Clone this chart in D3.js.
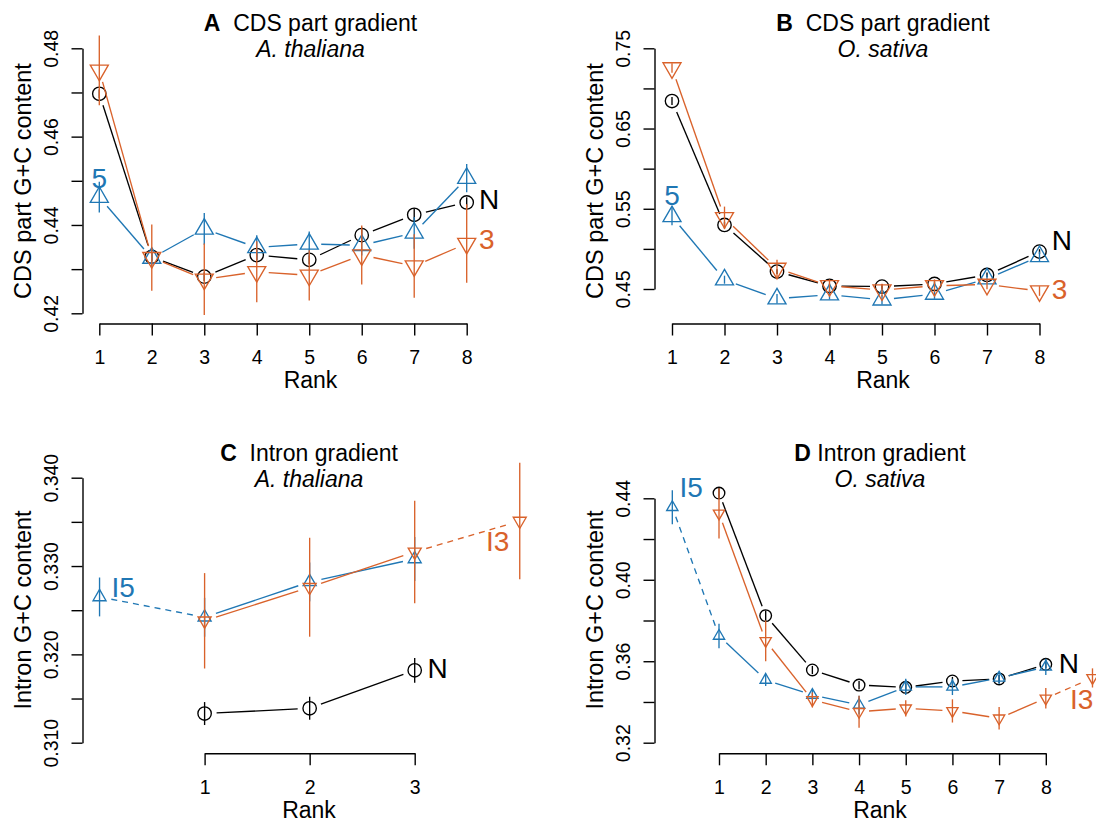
<!DOCTYPE html>
<html>
<head>
<meta charset="utf-8">
<script src="https://cdn.jsdelivr.net/npm/d3@7"></script>
<style>
  body { margin: 0; background: #fff; }
  svg { display: block; font-family: "Liberation Sans", Arial, Helvetica, sans-serif; }
</style>
</head>
<body>
<svg id="fig" width="1096" height="823"></svg>
<script>
// ---- A: CDS part gradient, A. thaliana ----
const aRanks  = [1, 2, 3, 4, 5, 6, 7, 8];
const aN      = [0.4697, 0.4328, 0.4283, 0.4332, 0.4321, 0.4377, 0.4423, 0.4451];
const aNErr   = [0.0010, 0.0010, 0.0010, 0.0012, 0.0010, 0.0017, 0.0015, 0.0012];
const a5      = [0.4463, 0.4325, 0.4391, 0.4349, 0.4357, 0.4354, 0.4382, 0.4506];
const a5Err   = [0.0035, 0.0022, 0.0036, 0.0028, 0.0028, 0.0023, 0.0036, 0.0032];
const a3      = [0.4750, 0.4326, 0.4277, 0.4294, 0.4286, 0.4332, 0.4307, 0.4358];
const a3Err   = [0.0079, 0.0075, 0.0081, 0.0069, 0.0057, 0.0067, 0.0072, 0.0089];
const aTicks  = [0.42, 0.43, 0.44, 0.45, 0.46, 0.47, 0.48];
const aLabels = [0.42, 0.44, 0.46, 0.48];

// ---- B: CDS part gradient, O. sativa ----
const bRanks  = [1, 2, 3, 4, 5, 6, 7, 8];
const bN      = [0.6843, 0.5298, 0.4717, 0.4538, 0.4530, 0.4563, 0.4675, 0.4966];
const bNErr   = [0.005, 0.004, 0.003, 0.003, 0.003, 0.003, 0.003, 0.003];
const b5      = [0.5404, 0.4616, 0.4379, 0.4429, 0.4366, 0.4437, 0.4628, 0.4906];
const b5Err   = [0.011, 0.005, 0.006, 0.006, 0.006, 0.006, 0.005, 0.006];
const b3      = [0.7255, 0.5387, 0.4756, 0.4540, 0.4486, 0.4540, 0.4557, 0.4475];
const b3Err   = [0.006, 0.014, 0.011, 0.008, 0.008, 0.008, 0.006, 0.006];
const bTicks  = [0.45, 0.50, 0.55, 0.60, 0.65, 0.70, 0.75];
const bLabels = [0.45, 0.55, 0.65, 0.75];

// ---- C: Intron gradient, A. thaliana ----
const cRanksN = [1, 2, 3];
const cN      = [0.3133, 0.3139, 0.3182];
const cNErr   = [0.0013, 0.0013, 0.0014];
const cRanks5 = [0, 1, 2, 3];
const c5      = [0.3265, 0.3242, 0.3282, 0.3308];
const c5Err   = [0.0022, 0.0022, 0.0022, 0.0025];
const cRanks3 = [1, 2, 3, 4];
const c3      = [0.3238, 0.3276, 0.3316, 0.3351];
const c3Err   = [0.0054, 0.0056, 0.0058, 0.0066];
const cTicks  = [0.310, 0.315, 0.320, 0.325, 0.330, 0.335, 0.340];
const cLabels = [0.310, 0.320, 0.330, 0.340];

// ---- D: Intron gradient, O. sativa ----
const dRanksN = [1, 2, 3, 4, 5, 6, 7, 8];
const dN      = [0.4426, 0.3824, 0.3557, 0.3483, 0.3472, 0.3503, 0.3513, 0.3585];
const dNErr   = [0.003, 0.0025, 0.002, 0.002, 0.002, 0.002, 0.002, 0.002];
const dRanks5 = [0, 1, 2, 3, 4, 5, 6, 7, 8];
const d5      = [0.4356, 0.3724, 0.3508, 0.3434, 0.3385, 0.3474, 0.3474, 0.3518, 0.3572];
const d5Err   = [0.0084, 0.006, 0.003, 0.0025, 0.0045, 0.004, 0.004, 0.003, 0.004];
const dRanks3 = [1, 2, 3, 4, 5, 6, 7, 8, 9];
const d3v     = [0.4326, 0.3700, 0.3410, 0.3352, 0.3369, 0.3356, 0.3320, 0.3418, 0.3518];
const d3Err   = [0.0123, 0.010, 0.0037, 0.0078, 0.004, 0.0057, 0.0055, 0.005, 0.0047];
const dTicks  = [0.32, 0.34, 0.36, 0.38, 0.40, 0.42, 0.44];
const dLabels = [0.32, 0.36, 0.40, 0.44];

const blue = "#1f77b4", orange = "#d9622b", black = "#000";
const svg = d3.select("#fig");

function drawPanel(p) {
  const g = svg.append("g");
  const x = d3.scaleLinear().domain(p.xDom).range(p.xRange);
  const y = d3.scaleLinear().domain(p.yDom).range(p.yRange);

  // y axis, R style: rotated labels, only some ticks labelled
  const ya = g.append("g")
    .attr("transform", `translate(${p.yAxisX},0)`)
    .call(d3.axisLeft(y).tickValues(p.yTicks).tickSize(11).tickSizeOuter(0)
      .tickFormat(d => p.yLabels.includes(d) ? d3.format(p.fmt)(d) : ""));
  ya.attr("font-family", null).attr("font-size", null);
  ya.select(".domain").attr("stroke-width", 1.4);
  ya.selectAll(".tick line").attr("stroke-width", 1.4);
  ya.selectAll(".tick text")
    .attr("x", 0).attr("dy", null).attr("y", 0)
    .attr("text-anchor", "middle")
    .attr("transform", "translate(-25,0) rotate(-90)")
    .style("font-size", "19.5px").attr("fill", black);

  const xa = g.append("g")
    .attr("transform", `translate(0,${p.xAxisY})`)
    .call(d3.axisBottom(x).tickValues(p.xTicks).tickSize(12).tickSizeOuter(0)
      .tickFormat(d3.format("d")));
  xa.attr("font-family", null).attr("font-size", null);
  xa.select(".domain").attr("stroke-width", 1.4);
  xa.selectAll(".tick line").attr("stroke-width", 1.4);
  xa.selectAll(".tick text").attr("y", 40.5).attr("dy", null)
    .style("font-size", "19.5px").attr("fill", black);

  // titles
  const t = g.append("text").attr("x", p.cx).attr("y", p.titleY)
    .attr("text-anchor", "middle").style("font-size", "23px")
    .style("white-space", "pre");
  t.append("tspan").attr("font-weight", "bold").text(p.letter);
  t.append("tspan").text(p.title);
  g.append("text").attr("x", p.cx).attr("y", p.titleY + 26)
    .attr("text-anchor", "middle").style("font-size", "23px")
    .style("font-style", "italic").text(p.species);

  g.append("text").attr("x", p.cx).attr("y", p.xAxisY + 64.5)
    .attr("text-anchor", "middle").style("font-size", "23px").text("Rank");
  g.append("text")
    .attr("transform", `translate(${p.yTitleX},${p.yTitleY}) rotate(-90)`)
    .attr("text-anchor", "middle").style("font-size", "23.5px").text(p.yTitle);

  // series: type "b" lines with gaps, error bars, open symbols
  p.series.forEach(s => {
    const pts = s.ranks.map((r, i) => ({
      r, px: x(r), py: y(s.vals[i]),
      lo: y(s.vals[i] - s.errs[i]), hi: y(s.vals[i] + s.errs[i])
    }));
    const sg = g.append("g").attr("stroke", s.color).attr("fill", "none")
      .attr("stroke-width", 1.35);

    sg.selectAll("line.err").data(pts).join("line").attr("class", "err")
      .attr("x1", d => d.px).attr("x2", d => d.px)
      .attr("y1", d => d.lo).attr("y2", d => d.hi);

    const segs = d3.pairs(pts).map(([a, b]) => {
      const dx = b.px - a.px, dy = b.py - a.py, L = Math.hypot(dx, dy);
      const ux = dx / L, uy = dy / L;
      return { a, b, L, x1: a.px + ux * p.gap, y1: a.py + uy * p.gap,
               x2: b.px - ux * p.gap, y2: b.py - uy * p.gap };
    }).filter(d => d.L > 2 * p.gap);
    sg.selectAll("line.seg").data(segs).join("line").attr("class", "seg")
      .attr("x1", d => d.x1).attr("y1", d => d.y1)
      .attr("x2", d => d.x2).attr("y2", d => d.y2)
      .attr("stroke-dasharray", d => (s.dashed || []).includes(d.a.r) ? "6,5" : null);

    const sym = s.shape === "circle"
      ? d3.symbol().type(d3.symbolCircle).size(Math.PI * p.circleR * p.circleR)
      : d3.symbol().type(d3.symbolTriangle).size(3 * Math.sqrt(3) / 4 * p.triR * p.triR);
    sg.selectAll("path.pt").data(pts).join("path").attr("class", "pt")
      .attr("d", sym)
      .attr("transform", d => `translate(${d.px},${d.py})` + (s.shape === "down" ? " rotate(180)" : ""));
  });

  p.notes.forEach(n => {
    g.append("text").attr("x", n.x).attr("y", n.y)
      .attr("text-anchor", n.anchor || "start")
      .attr("fill", n.color).style("font-size", "28px").text(n.text);
  });
}

drawPanel({
  xDom: [1, 8], xRange: [99.3, 466.7], xTicks: aRanks,
  yDom: [0.42, 0.48], yRange: [313.3, 48.3], yTicks: aTicks, yLabels: aLabels, fmt: ".2f",
  yAxisX: 82.5, xAxisY: 323.5, circleR: 6.7, triR: 10.4, gap: 12,
  cx: 310.5, titleY: 31, letter: "A", title: "  CDS part gradient", species: "A. thaliana",
  yTitle: "CDS part G+C content", yTitleX: 31, yTitleY: 181,
  series: [
    { ranks: aRanks, vals: aN, errs: aNErr, color: black, shape: "circle" },
    { ranks: aRanks, vals: a5, errs: a5Err, color: blue, shape: "up" },
    { ranks: aRanks, vals: a3, errs: a3Err, color: orange, shape: "down" }
  ],
  notes: [
    { text: "5", x: 99.3, y: 188, color: blue, anchor: "middle" },
    { text: "N", x: 479, y: 209.3, color: black },
    { text: "3", x: 479, y: 249.3, color: orange }
  ]
});

drawPanel({
  xDom: [1, 8], xRange: [672, 1039.5], xTicks: bRanks,
  yDom: [0.45, 0.75], yRange: [289, 48.3], yTicks: bTicks, yLabels: bLabels, fmt: ".2f",
  yAxisX: 654.5, xAxisY: 323.5, circleR: 6.7, triR: 10.4, gap: 12,
  cx: 883, titleY: 31, letter: "B", title: "  CDS part gradient", species: "O. sativa",
  yTitle: "CDS part G+C content", yTitleX: 603, yTitleY: 181,
  series: [
    { ranks: bRanks, vals: bN, errs: bNErr, color: black, shape: "circle" },
    { ranks: bRanks, vals: b5, errs: b5Err, color: blue, shape: "up" },
    { ranks: bRanks, vals: b3, errs: b3Err, color: orange, shape: "down" }
  ],
  notes: [
    { text: "5", x: 672, y: 205, color: blue, anchor: "middle" },
    { text: "N", x: 1051.7, y: 250, color: black },
    { text: "3", x: 1051.7, y: 299.3, color: orange }
  ]
});

drawPanel({
  xDom: [1, 3], xRange: [204.6, 414.7], xTicks: cRanksN,
  yDom: [0.31, 0.34], yRange: [742.7, 477.7], yTicks: cTicks, yLabels: cLabels, fmt: ".3f",
  yAxisX: 82.5, xAxisY: 753.3, circleR: 6.7, triR: 7.5, gap: 12,
  cx: 309, titleY: 460.5, letter: "C", title: "  Intron gradient", species: "A. thaliana",
  yTitle: "Intron G+C content", yTitleX: 31, yTitleY: 610,
  series: [
    { ranks: cRanksN, vals: cN, errs: cNErr, color: black, shape: "circle" },
    { ranks: cRanks5, vals: c5, errs: c5Err, color: blue, shape: "up", dashed: [0] },
    { ranks: cRanks3, vals: c3, errs: c3Err, color: orange, shape: "down", dashed: [3] }
  ],
  notes: [
    { text: "I5", x: 111.6, y: 596.7, color: blue },
    { text: "I3", x: 486, y: 550.7, color: orange },
    { text: "N", x: 427.4, y: 678.3, color: black }
  ]
});

drawPanel({
  xDom: [1, 8], xRange: [719, 1045.8], xTicks: dRanksN,
  yDom: [0.32, 0.44], yRange: [742.7, 498.3], yTicks: dTicks, yLabels: dLabels, fmt: ".2f",
  yAxisX: 654.5, xAxisY: 753.3, circleR: 5.8, triR: 6.5, gap: 10,
  cx: 880, titleY: 460.5, letter: "D", title: " Intron gradient", species: "O. sativa",
  yTitle: "Intron G+C content", yTitleX: 603, yTitleY: 610,
  series: [
    { ranks: dRanksN, vals: dN, errs: dNErr, color: black, shape: "circle" },
    { ranks: dRanks5, vals: d5, errs: d5Err, color: blue, shape: "up", dashed: [0] },
    { ranks: dRanks3, vals: d3v, errs: d3Err, color: orange, shape: "down", dashed: [8] }
  ],
  notes: [
    { text: "I5", x: 679.6, y: 496.7, color: blue },
    { text: "N", x: 1058.7, y: 673, color: black },
    { text: "I3", x: 1070, y: 708.5, color: orange }
  ]
});
</script>
</body>
</html>
